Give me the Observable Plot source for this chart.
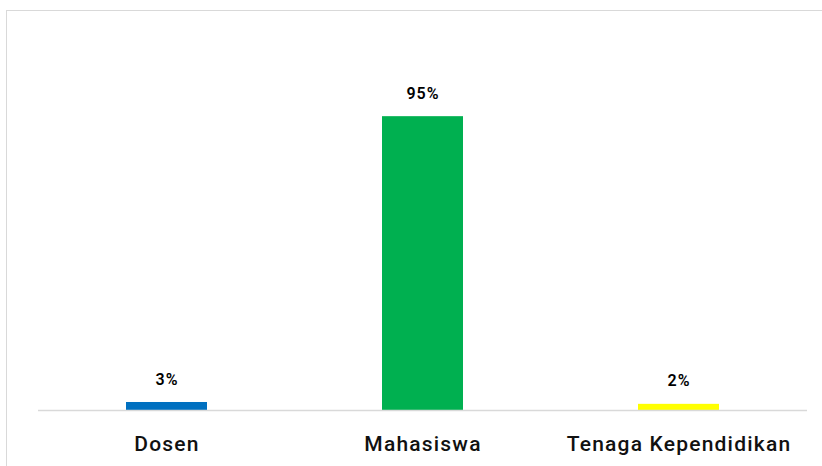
<!DOCTYPE html>
<html>
<head>
<meta charset="utf-8">
<script src="https://cdn.jsdelivr.net/npm/d3@7"></script>
<script src="https://cdn.jsdelivr.net/npm/@observablehq/plot@0.6"></script>
<style>
  html, body { margin: 0; padding: 0; background: #fff; }
  body { width: 822px; height: 466px; overflow: hidden; position: relative; }
  #frame { position: absolute; left: 6px; top: 10px; width: 830px; height: 470px; border: 1.5px solid #d9d9d9; box-sizing: border-box; }
  #chart { position: absolute; left: 0; top: 0; }
  #chart svg { font-family: Roboto, "Noto Sans", sans-serif; }
  #chart svg g[aria-label="x-axis tick label"] text { letter-spacing: 1.2px; }
  #chart svg g[aria-label="text"] text { letter-spacing: 1px; }
</style>
</head>
<body>
<div id="frame"></div>
<div id="chart"></div>
<script>
const categories = ["Dosen", "Mahasiswa", "Tenaga Kependidikan"];
const values = [2.6, 95.4, 2.0];
const colors = ["#0070C0", "#00B050", "#FFFF00"];

const data = categories.map((c, i) => ({category: c, value: values[i], color: colors[i]}));

const chart = Plot.plot({
  width: 822,
  height: 466,
  marginLeft: 38,
  marginRight: 15,
  marginTop: 102,
  marginBottom: 56,
  style: {background: "transparent", color: "#000"},
  x: {domain: categories, paddingInner: 0.684, paddingOuter: 0.342, label: null},
  y: {domain: [0, 100], axis: null},
  marks: [
    Plot.barY(data, {x: "category", y: "value", fill: "color"}),
    Plot.ruleY([0], {stroke: "#d9d9d9", strokeWidth: 1.5}),
    Plot.text(data, {
      x: "category", y: "value",
      text: d => Math.round(d.value) + "%",
      dy: -23, lineAnchor: "middle",
      fontSize: 16, fontWeight: 600, fill: "#000"
    }),
    Plot.axisX({tickSize: 0, tickPadding: 26, fontSize: 21, fontWeight: 500, fill: "#111", label: null})
  ]
});
document.getElementById("chart").appendChild(chart);
</script>
</body>
</html>
